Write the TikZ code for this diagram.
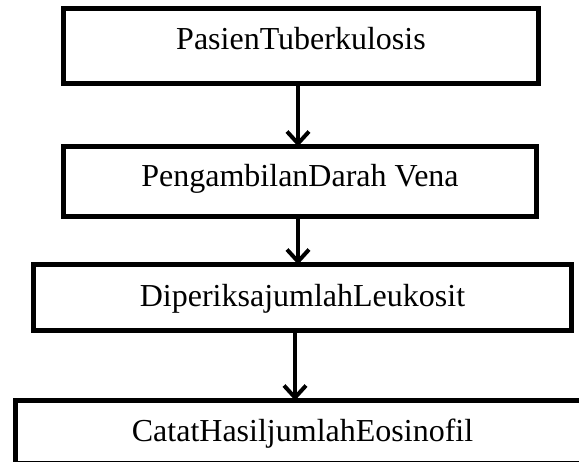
\documentclass[tikz,border=0pt]{standalone}
\usepackage{fontspec}
\setmainfont{Liberation Serif}
\usepackage{tikz}
\usetikzlibrary{arrows.meta, positioning}
\definecolor{ink}{HTML}{000000}
\tikzset{
  stepbox/.style ={draw=ink, line width=5pt, fill=white, outer sep=0pt,
                   font=\fontsize{32}{38}\selectfont, text=ink,
                   text height=22pt, inner sep=0pt, align=center},
  flow/.style    ={-{Straight Barb[length=12pt,width=22pt,line width=4pt]},
                   line width=4pt, draw=ink}
}

\begin{document}
\begin{tikzpicture}[x=1pt, y=-1pt]
  \useasboundingbox (0,0) rectangle (579,462);
  \clip (0,0) rectangle (579,462);

  \node[stepbox, minimum width=475pt, minimum height=75pt, text depth=14pt]
    (pasien) at (301,46) {PasienTuberkulosis};
  \node[stepbox, below=63pt of pasien, minimum width=473pt, minimum height=70pt,
        text depth=11pt, xshift=-1pt] (darah) {PengambilanDarah Vena};
  \node[stepbox, below=48pt of darah, minimum width=538pt, minimum height=66pt,
        text depth=4pt, xshift=2.5pt] (leuko) {DiperiksajumlahLeukosit};
  \node[stepbox, below=70pt of leuko, minimum width=575pt, minimum height=63pt,
        text depth=2.5pt] (eosino) {CatatHasiljumlahEosinofil};

  \draw[flow] ([xshift=-3pt]pasien.south) -- ([xshift=-2pt]darah.north);
  \draw[flow] ([xshift=-2pt]darah.south)  -- ([xshift=-4.5pt]leuko.north);
  \draw[flow] ([xshift=-7.5pt]leuko.south) -- ([xshift=-7.5pt]eosino.north);
\end{tikzpicture}
\end{document}
